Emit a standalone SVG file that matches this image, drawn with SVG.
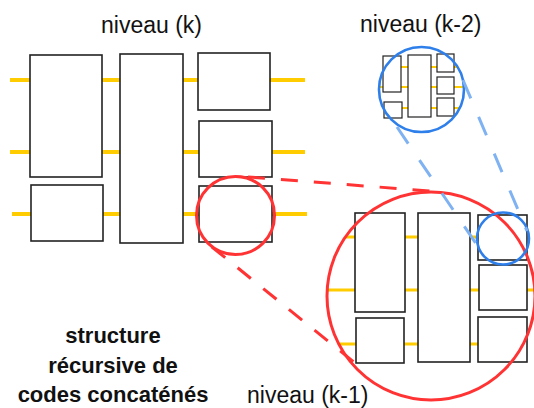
<svg xmlns="http://www.w3.org/2000/svg" width="534" height="408" viewBox="0 0 534 408">
<style>
.box{fill:#fff;stroke:#222;stroke-width:1.6}
.sbox{fill:#fff;stroke:#222;stroke-width:1.2}
.wire{stroke:#FFCC00;stroke-width:4;fill:none}
.wire2{stroke:#FFCC00;stroke-width:3;fill:none}
.wire3{stroke:#FFCC00;stroke-width:1.8;fill:none}
.red{fill:none;stroke:#FF3333;stroke-width:3}
.redd{fill:none;stroke:#FF3333;stroke-width:3;stroke-dasharray:17 16}
.blue{fill:none;stroke:#2F7FEA;stroke-width:2.6}
.blued{fill:none;stroke:#7FB2F2;stroke-width:3;stroke-dasharray:20 20}
.lbl{font-family:"Liberation Sans",Arial,sans-serif;font-size:23px;fill:#111}
.title{font-family:"Liberation Sans",Arial,sans-serif;font-size:22px;font-weight:bold;fill:#111;text-anchor:middle}
</style>
<defs>
<clipPath id="clipBig"><circle cx="431" cy="296" r="104"/></clipPath>
<clipPath id="clipSmall"><circle cx="421.5" cy="89.5" r="42.5"/></clipPath>
</defs>

<!-- level k -->
<g id="level-k">
<g id="wires-k">
<line class="wire" x1="10" y1="80" x2="305" y2="80"/>
<line class="wire" x1="10" y1="152" x2="305" y2="152"/>
<line class="wire" x1="12" y1="214" x2="307" y2="214"/>
</g>
<rect id="k-a" class="box" x="30" y="55" width="72" height="122"/>
<rect id="k-b" class="box" x="31" y="185" width="72" height="56"/>
<rect id="k-c" class="box" x="120" y="54" width="63" height="189"/>
<rect id="k-d" class="box" x="198" y="53" width="72" height="57"/>
<rect id="k-e" class="box" x="199" y="121" width="73" height="56"/>
<rect id="k-f" class="box" x="199" y="186" width="73" height="56"/>
</g>

<!-- level k-1 -->
<g id="level-k1">
<circle cx="431" cy="296" r="104" fill="#fff"/>
<g clip-path="url(#clipBig)">
<line class="wire2" x1="320" y1="237" x2="540" y2="237"/>
<line class="wire2" x1="320" y1="290" x2="540" y2="290"/>
<line class="wire2" x1="320" y1="344" x2="540" y2="344"/>
</g>
<rect id="k1-a" class="box" x="355" y="213" width="50" height="99"/>
<rect id="k1-b" class="box" x="356" y="318" width="48" height="45"/>
<rect id="k1-c" class="box" x="418" y="213" width="52" height="149"/>
<rect id="k1-d" class="box" x="478" y="215" width="49" height="45"/>
<rect id="k1-e" class="box" x="479" y="265" width="48" height="45"/>
<rect id="k1-f" class="box" x="478" y="317" width="49" height="45"/>
<circle class="red" cx="431" cy="296" r="104"/>
</g>

<!-- level k-2 -->
<g id="level-k2">
<g clip-path="url(#clipSmall)">
<line class="wire3" x1="370" y1="67" x2="470" y2="67"/>
<line class="wire3" x1="370" y1="87" x2="470" y2="87"/>
<line class="wire3" x1="370" y1="108" x2="470" y2="108"/>
</g>
<rect id="k2-a" class="sbox" x="383" y="56" width="18" height="36"/>
<rect id="k2-b" class="sbox" x="384" y="102" width="18" height="16"/>
<rect id="k2-c" class="sbox" x="408" y="55" width="23" height="62"/>
<rect id="k2-d" class="sbox" x="437" y="54" width="17" height="18"/>
<rect id="k2-e" class="sbox" x="437" y="77" width="17" height="17"/>
<rect id="k2-f" class="sbox" x="437" y="98" width="17" height="18"/>
<circle class="blue" cx="421.5" cy="89.5" r="42.5"/>
</g>

<!-- zoom markers and connectors -->
<g id="connectors">
<circle class="red" cx="235.5" cy="215.5" r="39"/>
<circle class="blue" cx="503" cy="238.5" r="26" stroke-width="3"/>
<line class="redd" x1="248" y1="177" x2="430" y2="191"/>
<line class="redd" x1="212" y1="247" x2="355" y2="363"/>
<line class="blued" x1="397" y1="127" x2="479" y2="248"/>
<line class="blued" x1="463" y1="80" x2="527" y2="231"/>
</g>

<g id="labels">
<text class="lbl" x="101" y="33">niveau (k)</text>
<text class="lbl" x="360" y="32">niveau (k-2)</text>
<text class="lbl" x="247" y="403">niveau (k-1)</text>
<text class="title" x="113" y="343">structure</text>
<text class="title" x="113" y="373">récursive de</text>
<text class="title" x="113" y="402">codes concaténés</text>
</g>
</svg>
